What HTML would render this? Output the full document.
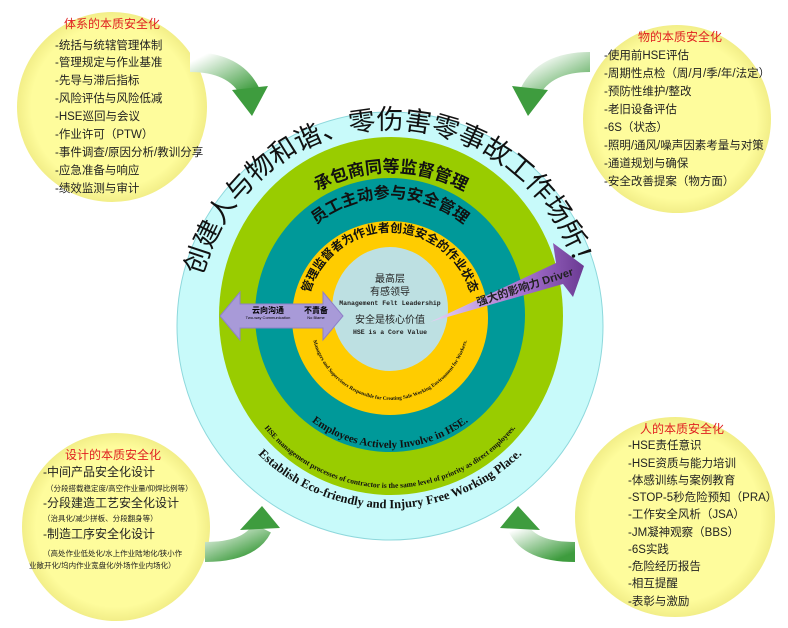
<!DOCTYPE html>
<html><head><meta charset="utf-8"><style>
html,body{margin:0;padding:0;background:#fff;}
svg{display:block;}
.cj{font-family:"Liberation Sans","Noto Sans CJK SC",sans-serif;}
.it{font-size:11.5px;fill:#222;}
.tt{font-size:12px;fill:#e02020;}
</style></head><body>
<svg width="788" height="628" viewBox="0 0 788 628" xmlns="http://www.w3.org/2000/svg" class="cj">
<defs>
<radialGradient id="yc" cx="50%" cy="50%" r="50%"><stop offset="85%" stop-color="#fefc9c"/><stop offset="100%" stop-color="#f2ee88"/></radialGradient>
<linearGradient id="ga1" x1="0" y1="0" x2="1" y2="1"><stop offset="0" stop-color="#fff"/><stop offset="1" stop-color="#3e9c3e"/></linearGradient>
<linearGradient id="pr" x1="0" y1="0" x2="1" y2="0"><stop offset="0" stop-color="#e6d2f5"/><stop offset="0.6" stop-color="#a672d0"/><stop offset="1" stop-color="#6b3a93"/></linearGradient>
<path id="pTitle" d="M 196 325 A 194 196 0 0 1 584 325"/>
<path id="pBot" d="M 205 360 A 190 192 0 0 0 575 360"/>
<path id="pGreen" d="M 236 316 A 156 162 0 0 1 546 316"/>
<path id="pGreenB" d="M 230 330 A 160 158 0 0 0 550 330"/>
<path id="pTeal" d="M 272 318 A 118 120 0 0 1 508 318"/>
<path id="pTealB" d="M 266 330 A 124 118 0 0 0 514 330"/>
<path id="pYel" d="M 306 318 A 84 86 0 0 1 474 318"/>
<path id="pYelB" d="M 310 318 A 80 82 0 0 0 470 318"/>
</defs>

<circle cx="112" cy="107" r="95" fill="url(#yc)"/>
<circle cx="677" cy="119" r="94" fill="url(#yc)"/>
<circle cx="116" cy="527" r="94" fill="url(#yc)"/>
<circle cx="675" cy="517" r="100" fill="url(#yc)"/>

<path d="M 190 62 Q 235 62 250 92" stroke="url(#ga1)" stroke-width="20" fill="none"/>
<polygon points="232,90 268,86 252,116" fill="#3e9c3e"/>
<path d="M 590 62 Q 545 62 530 92" stroke="url(#ga1)" stroke-width="20" fill="none"/>
<polygon points="512,86 548,90 528,116" fill="#3e9c3e"/>
<path d="M 205 552 Q 250 552 262 528" stroke="url(#ga1)" stroke-width="20" fill="none"/>
<polygon points="240,530 280,528 262,506" fill="#3e9c3e"/>
<path d="M 575 552 Q 530 552 518 528" stroke="url(#ga1)" stroke-width="20" fill="none"/>
<polygon points="500,528 540,530 518,506" fill="#3e9c3e"/>

<ellipse cx="390" cy="326" rx="213" ry="214" fill="#c8fafa" stroke="#8ed8dc" stroke-width="1"/>
<ellipse cx="391" cy="316" rx="172" ry="179" fill="#99cc00"/>
<ellipse cx="390" cy="315" rx="135" ry="137" fill="#009999"/>
<ellipse cx="390" cy="318" rx="98" ry="97" fill="#ffcc00"/>
<ellipse cx="390" cy="309" rx="58" ry="62" fill="#bde0e2"/>

<text font-size="27" fill="#111"><textPath href="#pTitle" startOffset="50%" text-anchor="middle">创建人与物和谐、零伤害零事故工作场所！</textPath></text>
<text font-family="Liberation Serif,serif" font-size="12.5" font-weight="bold" fill="#111"><textPath href="#pBot" startOffset="50%" text-anchor="middle">Establish Eco-friendly and Injury Free Working Place.</textPath></text>
<text font-size="17" font-weight="bold" fill="#111"><textPath href="#pGreen" startOffset="50%" text-anchor="middle">承包商同等监督管理</textPath></text>
<text font-family="Liberation Serif,serif" font-size="7.5" font-weight="bold" fill="#111"><textPath href="#pGreenB" startOffset="50%" text-anchor="middle">HSE management processes of contractor is the same level of priority as direct employees.</textPath></text>
<text font-size="16" font-weight="bold" fill="#111"><textPath href="#pTeal" startOffset="50%" text-anchor="middle">员工主动参与安全管理</textPath></text>
<text font-family="Liberation Serif,serif" font-size="11" font-weight="bold" fill="#111"><textPath href="#pTealB" startOffset="50%" text-anchor="middle">Employees Actively Involve in HSE.</textPath></text>
<text font-size="12" font-weight="bold" fill="#111"><textPath href="#pYel" startOffset="50%" text-anchor="middle">管理监督者为作业者创造安全的作业状态</textPath></text>
<text font-family="Liberation Serif,serif" font-size="5.2" font-weight="bold" fill="#111"><textPath href="#pYelB" startOffset="50%" text-anchor="middle">Managers and Supervisors Responsible for Creating Safe Working Environment for Workers.</textPath></text>

<g fill="#222" text-anchor="middle">
<text x="390" y="282" font-size="10">最高层</text>
<text x="390" y="295" font-size="10">有感领导</text>
<text x="390" y="305" font-size="6.5" font-family="Liberation Mono,monospace" font-weight="bold">Management Felt Leadership</text>
<text x="390" y="323" font-size="10">安全是核心价值</text>
<text x="390" y="334" font-size="6.5" font-family="Liberation Mono,monospace" font-weight="bold">HSE is a Core Value</text>
</g>

<polygon points="220,316 240,292 240,304 323,304 323,292 343,316 323,340 323,328 240,328 240,340" fill="#a89ad8" stroke="#8e80c8" stroke-width="1"/>
<text x="268" y="313" font-size="8" font-weight="bold" text-anchor="middle">云向沟通</text>
<text x="268" y="319" font-size="4" text-anchor="middle">Two-way Communication</text>
<text x="316" y="313" font-size="8" font-weight="bold" text-anchor="middle">不責备</text>
<text x="316" y="319" font-size="4" text-anchor="middle">No Blame</text>

<polygon points="430,322 556,263 553,243 584,266 573,297 563,284" fill="url(#pr)"/>
<text x="0" y="0" font-size="11" font-weight="bold" fill="#222" transform="translate(478,306) rotate(-18)">强大的影响力 Driver</text>

<text x="112" y="28" class="tt" text-anchor="middle">体系的本质安全化</text>
<g class="it">
<text x="55" y="49">-统括与统辖管理体制</text>
<text x="55" y="66">-管理规定与作业基准</text>
<text x="55" y="84">-先导与滞后指标</text>
<text x="55" y="102">-风险评估与风险低减</text>
<text x="55" y="120">-HSE巡回与会议</text>
<text x="55" y="138">-作业许可（PTW）</text>
<text x="55" y="156">-事件调查/原因分析/教训分享</text>
<text x="55" y="174">-应急准备与响应</text>
<text x="55" y="192">-绩效监测与审计</text>
</g>
<text x="680" y="41" class="tt" text-anchor="middle">物的本质安全化</text>
<g class="it">
<text x="604" y="59">-使用前HSE评估</text>
<text x="604" y="77">-周期性点检（周/月/季/年/法定）</text>
<text x="604" y="95">-预防性维护/整改</text>
<text x="604" y="113">-老旧设备评估</text>
<text x="604" y="131">-6S（状态）</text>
<text x="604" y="149">-照明/通风/噪声因素考量与对策</text>
<text x="604" y="167">-通道规划与确保</text>
<text x="604" y="185">-安全改善提案（物方面）</text>
</g>
<text x="113" y="459" class="tt" text-anchor="middle">设计的本质安全化</text>
<g fill="#222">
<text x="43" y="476" font-size="12">-中间产品安全化设计</text>
<text x="46" y="491" font-size="7.5">（分段搭载稳定度/高空作业量/仰焊比例等）</text>
<text x="43" y="507" font-size="12">-分段建造工艺安全化设计</text>
<text x="43" y="521" font-size="7.5">（治具化/减少拼板、分段翻身等）</text>
<text x="43" y="538" font-size="12">-制造工序安全化设计</text>
<text x="43" y="556" font-size="7.5">（高处作业低处化/水上作业陆地化/狭小作</text>
<text x="29" y="568" font-size="7.5">业敞开化/坞内作业宽盘化/外场作业内场化）</text>
</g>
<text x="682" y="433" class="tt" text-anchor="middle">人的本质安全化</text>
<g class="it">
<text x="628" y="449">-HSE责任意识</text>
<text x="628" y="467">-HSE资质与能力培训</text>
<text x="628" y="484">-体感训练与案例教育</text>
<text x="628" y="501">-STOP-5秒危险预知（PRA）</text>
<text x="628" y="518">-工作安全风析（JSA）</text>
<text x="628" y="536">-JM凝神观察（BBS）</text>
<text x="628" y="553">-6S实践</text>
<text x="628" y="570">-危险经历报告</text>
<text x="628" y="587">-相互提醒</text>
<text x="628" y="605">-表彰与激励</text>
</g>
</svg>
</body></html>
